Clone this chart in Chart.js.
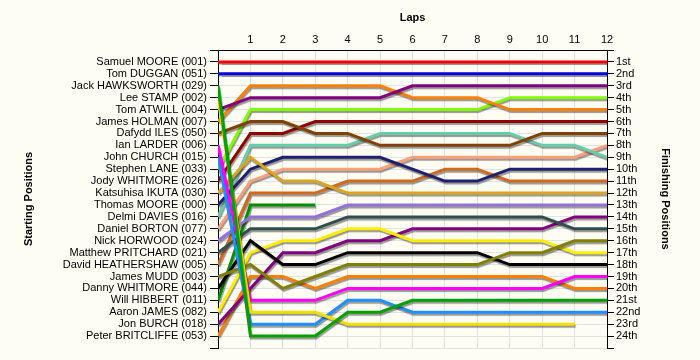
<!DOCTYPE html>
<html>
    <head>
        <meta charset="utf-8">
        <script src="https://cdn.jsdelivr.net/npm/chart.js@4.4.1/dist/chart.umd.min.js"></script>
        <title>Lap chart</title>
        <style>
            body { margin: 0; background: #fefdf3; }
        </style>
    </head>
    <body>
        <canvas id="lap_chart" width="700" height="360"></canvas>

        <script type="text/javascript">
            // lap 0 = grid position, then position at the end of each lap
            var laps = [0, 1, 2, 3, 4, 5, 6, 7, 8, 9, 10, 11, 12];

            var startNames = [
                "Samuel MOORE (001)", "Tom DUGGAN (051)", "Jack HAWKSWORTH (029)", "Lee STAMP (002)",
                "Tom ATWILL (004)", "James HOLMAN (007)", "Dafydd ILES (050)", "Ian LARDER (006)",
                "John CHURCH (015)", "Stephen LANE (033)", "Jody WHITMORE (026)", "Katsuhisa IKUTA (030)",
                "Thomas MOORE (000)", "Delmi DAVIES (016)", "Daniel BORTON (077)", "Nick HORWOOD (024)",
                "Matthew PRITCHARD (021)", "David HEATHERSHAW (005)", "James MUDD (003)", "Danny WHITMORE (044)",
                "Will HIBBERT (011)", "Aaron JAMES (082)", "Jon BURCH (018)", "Peter BRITCLIFFE (053)"
            ];

            var finishLabels = [
                "1st", "2nd", "3rd", "4th", "5th", "6th", "7th", "8th", "9th", "10th", "11th", "12th",
                "13th", "14th", "15th", "16th", "17th", "18th", "19th", "20th", "21st", "22nd", "23rd", "24th"
            ];

            var samuelMoore   = [1, 1, 1, 1, 1, 1, 1, 1, 1, 1, 1, 1, 1];
            var tomDuggan     = [2, 2, 2, 2, 2, 2, 2, 2, 2, 2, 2, 2, 2];
            var jackHawksworth = [3, 24, 24, 24, 22, 22, 21, 21, 21, 21, 21, 21, 21];
            var leeStamp      = [4, 22, 22, 22, 23, 23, 23, 23, 23, 23, 23, 23, null];
            var tomAtwill     = [5, 4, 4, 4, 4, 4, 3, 3, 3, 3, 3, 3, 3];
            var jamesHolman   = [6, 3, 3, 3, 3, 3, 4, 4, 4, 5, 5, 5, 5];
            var dafyddIles    = [7, 6, 6, 7, 7, 8, 8, 8, 8, 8, 7, 7, 7];
            var ianLarder     = [8, 21, 21, 21, 20, 20, 20, 20, 20, 20, 20, 19, 19];
            var johnChurch    = [9, 23, 23, 23, 21, 21, 22, 22, 22, 22, 22, 22, 22];
            var stephenLane   = [10, 5, 5, 5, 5, 5, 5, 5, 5, 4, 4, 4, 4];
            var jodyWhitmore  = [11, 7, 7, 6, 6, 6, 6, 6, 6, 6, 6, 6, 6];
            var katsuhisaIkuta = [12, 9, 11, 11, 12, 12, 12, 12, 12, 12, 12, 12, 12];
            var thomasMoore   = [13, 10, 9, 9, 9, 9, 10, 11, 11, 10, 10, 10, 10];
            var delmiDavies   = [14, 8, 8, 8, 8, 7, 7, 7, 7, 7, 8, 8, 9];
            var danielBorton  = [15, 11, 10, 10, 10, 10, 9, 9, 9, 9, 9, 9, 8];
            var nickHorwood   = [16, 14, 14, 14, 13, 13, 13, 13, 13, 13, 13, 13, 13];
            var matthewPritchard = [17, 15, 15, 15, 14, 14, 14, 14, 14, 14, 14, 15, 15];
            var davidHeathershaw = [18, 12, 12, 12, 11, 11, 11, 10, 10, 11, 11, 11, 11];
            var jamesMudd     = [19, 18, 20, 19, 18, 18, 18, 18, 18, 17, 17, 16, 16];
            var dannyWhitmore = [20, 16, 18, 18, 17, 17, 17, 17, 17, 18, 18, 18, 18];
            var willHibbert   = [21, 13, 13, 13, null, null, null, null, null, null, null, null, null];
            var aaronJames    = [22, 17, 16, 16, 15, 15, 16, 16, 16, 16, 16, 17, 17];
            var jonBurch      = [23, 20, 17, 17, 16, 16, 15, 15, 15, 15, 15, 14, 14];
            var peterBritcliffe = [24, 19, 19, 20, 19, 19, 19, 19, 19, 19, 19, 20, 20];

            var driverRuns = [
                samuelMoore, tomDuggan, jackHawksworth, leeStamp, tomAtwill, jamesHolman,
                dafyddIles, ianLarder, johnChurch, stephenLane, jodyWhitmore, katsuhisaIkuta,
                thomasMoore, delmiDavies, danielBorton, nickHorwood, matthewPritchard, davidHeathershaw,
                jamesMudd, dannyWhitmore, willHibbert, aaronJames, jonBurch, peterBritcliffe
            ];

            var lineColours = [
                "#f00000", "#0000e0", "#00a000", "#f0e000", "#800080", "#ff8000",
                "#804000", "#ff00ff", "#1e90ff", "#80ff00", "#900000", "#daa520",
                "#202070", "#66cdaa", "#ffa07a", "#9370db", "#2f4f4f", "#d2691e",
                "#808000", "#000000", "#009000", "#ffee00", "#800080", "#ff8000"
            ];

            var datasets = driverRuns.map(function(run, i){
                var points = [];
                run.forEach(function(pos, lap){
                    if(pos !== null) points.push({x: laps[lap], y: pos});
                });
                return {
                    label: startNames[i],
                    data: points,
                    borderColor: lineColours[i],
                    borderWidth: 3,
                    pointRadius: 0,
                    tension: 0,
                    fill: false
                };
            });

            var background = {
                id: "background",
                beforeDraw: function(chart){
                    var c = chart.ctx;
                    c.save();
                    c.fillStyle = "#fefdf3";
                    c.fillRect(0, 0, chart.width, chart.height);
                    c.restore();
                }
            };

            // grey drop shadow under each line
            var lineShadow = {
                id: "lineShadow",
                beforeDatasetDraw: function(chart){
                    var c = chart.ctx;
                    c.save();
                    c.shadowColor = "rgba(0,0,0,0.4)";
                    c.shadowOffsetX = 1;
                    c.shadowOffsetY = 2;
                    c.shadowBlur = 1;
                },
                afterDatasetDraw: function(chart){
                    chart.ctx.restore();
                }
            };

            var labelFont = {family: "'Liberation Sans', Arial, sans-serif", size: 11};
            var titleFont = {family: "'Liberation Sans', Arial, sans-serif", size: 11, weight: "bold"};

            var ctx = document.getElementById("lap_chart");
            var lap_chart = new Chart(ctx, {
                type: "line",
                data: {datasets: datasets},
                plugins: [background, lineShadow],
                options: {
                    responsive: false,
                    animation: false,
                    layout: {padding: {top: 7, left: 18, right: 24, bottom: 12}},
                    plugins: {legend: {display: false}, tooltip: {enabled: false}},
                    scales: {
                        x: {
                            type: "linear",
                            position: "top",
                            min: 0,
                            max: 12,
                            afterFit: function(scale){ scale.height = 43; },
                            ticks: {
                                stepSize: 1,
                                color: "#000",
                                font: labelFont,
                                padding: 3,
                                maxRotation: 0,
                                callback: function(v){ return v === 0 ? "" : v; }
                            },
                            grid: {color: "#e2e2e2", drawTicks: false},
                            border: {color: "#000"},
                            title: {display: true, text: "Laps", color: "#000", font: titleFont, padding: {top: 4, bottom: 4}}
                        },
                        y: {
                            type: "linear",
                            position: "left",
                            reverse: true,
                            min: 0,
                            max: 25,
                            afterFit: function(scale){ scale.width = 200; },
                            ticks: {
                                stepSize: 1,
                                autoSkip: false,
                                color: "#000",
                                font: labelFont,
                                padding: 3,
                                callback: function(v){ return startNames[v - 1] || ""; }
                            },
                            grid: {color: "#e2e2e2", tickColor: "#000", tickLength: 8},
                            border: {color: "#000"},
                            title: {display: true, text: "Starting Positions", color: "#000", font: titleFont, padding: {top: 4, bottom: 4}}
                        },
                        y2: {
                            type: "linear",
                            position: "right",
                            reverse: true,
                            min: 0,
                            max: 25,
                            afterFit: function(scale){ scale.width = 69; },
                            ticks: {
                                stepSize: 1,
                                autoSkip: false,
                                color: "#000",
                                font: labelFont,
                                padding: 2,
                                callback: function(v){ return finishLabels[v - 1] || ""; }
                            },
                            grid: {drawOnChartArea: false, tickColor: "#000", tickLength: 7},
                            border: {color: "#000"},
                            title: {display: true, text: "Finishing Positions", color: "#000", font: titleFont, padding: {top: 4, bottom: 4}}
                        }
                    }
                }
            });
        </script>
    </body>
</html>
